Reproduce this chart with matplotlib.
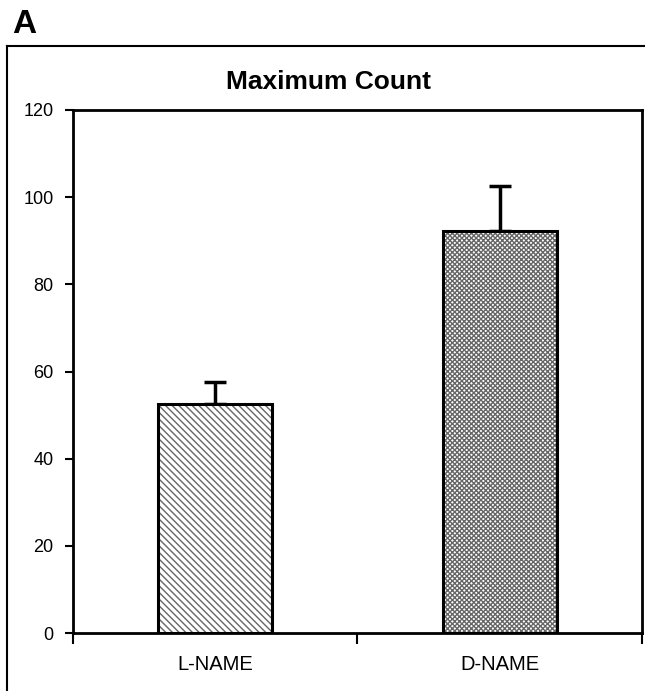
import matplotlib.pyplot as plt
from matplotlib.lines import Line2D

plt.rcParams['font.family'] = ['Liberation Sans', 'DejaVu Sans']

groups = ["L-NAME", "D-NAME"]
means = [52.5, 92.3]
errors = [5.2, 10.2]
hatches = ["\\\\\\\\\\", "xxxxxxx"]
yticks = [0, 20, 40, 60, 80, 100, 120]

fig = plt.figure(figsize=(6.45, 6.91), dpi=100)

# outer panel frame (left and top edges only visible)
fig.add_artist(Line2D([7 / 645, 7 / 645], [0, 1 - 46 / 691], transform=fig.transFigure,
                      color="black", lw=1.5))
fig.add_artist(Line2D([7 / 645, 1], [1 - 46 / 691, 1 - 46 / 691], transform=fig.transFigure,
                      color="black", lw=1.5))
fig.text(12 / 645, 1 - 33 / 691, "A", fontsize=24, fontweight="bold", ha="left", va="baseline")

ax = fig.add_axes([73 / 645, 1 - 633 / 691, (642 - 73) / 645, (633 - 110) / 691])

plt.rcParams['hatch.linewidth'] = 1.0
x = list(range(len(groups)))
for i in x:
    ax.bar(i, means[i], width=0.4, color="white", edgecolor="#666666", hatch=hatches[i], lw=0, zorder=2)
    ax.bar(i, means[i], width=0.4, fill=False, edgecolor="black", lw=2.2, zorder=3)
ax.errorbar(x, means, yerr=[[0, 0], errors], fmt="none", ecolor="black", elinewidth=2.5,
            capsize=8, capthick=2.5, zorder=1)

ax.set_xlim(-0.5, 1.5)
ax.set_ylim(0, 120)
ax.set_yticks(yticks)
ax.set_yticklabels([str(v) for v in yticks], fontsize=13)
ax.set_xticks([-0.5, 0.5, 1.5])
ax.set_xticklabels([])
ax.set_xticks(x, minor=True)
ax.set_xticklabels(groups, minor=True, fontsize=14.5)
ax.tick_params(axis="x", which="minor", length=0, pad=16)
ax.tick_params(axis="x", which="major", length=8, width=1.5, direction="out")
ax.tick_params(axis="y", length=6, width=1.5, direction="out", pad=8)
for s in ax.spines.values():
    s.set_linewidth(2)

fig.text(328 / 645, 1 - 82 / 691, "Maximum Count", fontsize=19, fontweight="bold",
         ha="center", va="center")

fig.savefig("out.png", dpi=100)
